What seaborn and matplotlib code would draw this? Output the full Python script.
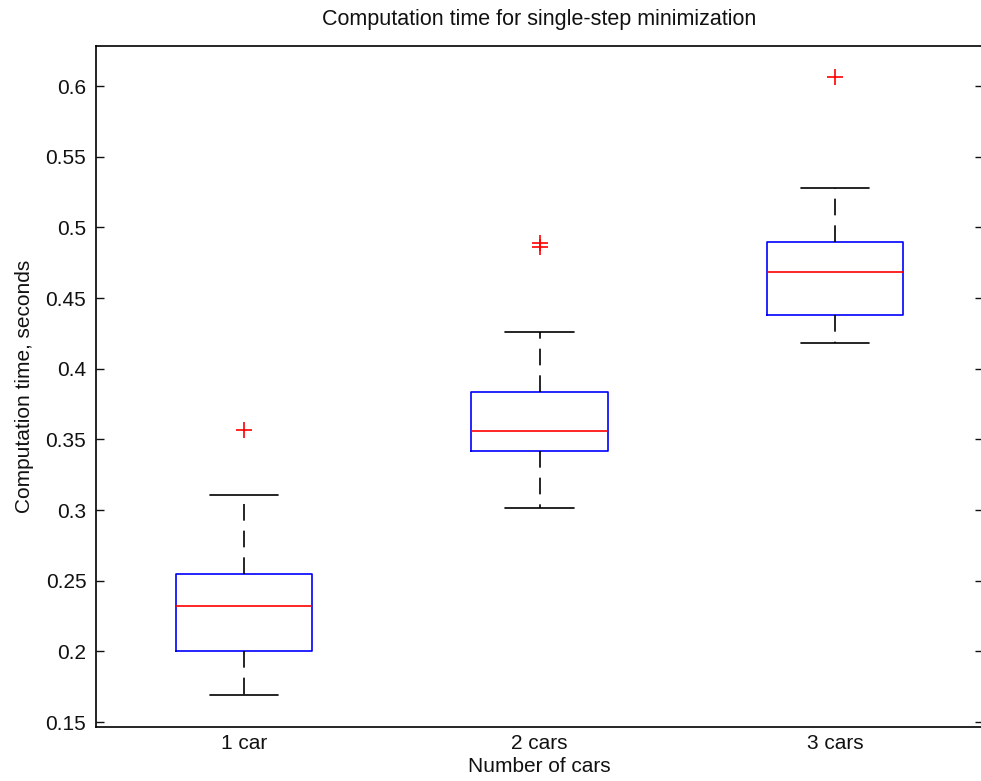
import numpy as np
import pandas as pd
import matplotlib
matplotlib.use("Agg")
import matplotlib.pyplot as plt
import seaborn as sns

categories = ["1 car", "2 cars", "3 cars"]
car1 = [0.1689, 0.185, 0.2000, 0.215, 0.2319, 0.243, 0.2547, 0.3104, 0.3569]
car2 = [0.3012, 0.315, 0.330, 0.3418, 0.346, 0.351, 0.3559, 0.363, 0.373,
        0.3833, 0.4262, 0.4860, 0.4892]
car3 = [0.4182, 0.428, 0.4380, 0.452, 0.4685, 0.479, 0.4897, 0.5279, 0.6065]
ytick_vals = [0.15, 0.2, 0.25, 0.3, 0.35, 0.4, 0.45, 0.5, 0.55, 0.6]
ytick_labels = ["0.15", "0.2", "0.25", "0.3", "0.35", "0.4", "0.45", "0.5", "0.55", "0.6"]

df = pd.DataFrame({
    "cars": [categories[0]] * len(car1) + [categories[1]] * len(car2) + [categories[2]] * len(car3),
    "time": car1 + car2 + car3,
})

sns.set_theme(style="white")
plt.rcParams["font.family"] = ["Liberation Sans", "DejaVu Sans"]
plt.rcParams["text.color"] = "black"
plt.rcParams["axes.labelcolor"] = "black"

fig = plt.figure(figsize=(9.81, 7.81), dpi=100)
ax = fig.add_axes([96 / 981, 1 - 727 / 781, 887 / 981, 681 / 781])

sns.boxplot(
    data=df, x="cars", y="time", order=categories, ax=ax,
    width=0.46, fill=False, whis=1.5, linewidth=1.2,
    boxprops=dict(color="#0000ff"),
    medianprops=dict(color="#ff0000"),
    whiskerprops=dict(color="black", linestyle=(0, (10, 6))),
    capprops=dict(color="black"),
    flierprops=dict(marker="+", markeredgecolor="#ff0000", markerfacecolor="#ff0000",
                    markersize=11, markeredgewidth=1.2),
    fliersize=11,
)

ax.set_xlim(-0.5, 2.5)
ax.set_ylim(0.1465, 0.6283)
ax.set_yticks(ytick_vals)
ax.set_yticklabels(ytick_labels)

for s in ax.spines.values():
    s.set_color("black")
    s.set_linewidth(1.2)

ax.tick_params(axis="y", direction="in", length=6, width=1, left=True, right=True,
               labelsize=15, pad=7, colors="#111111")
ax.tick_params(axis="x", length=0, labelsize=15, pad=5, colors="#111111")

ax.set_xlabel("Number of cars", fontsize=15, color="#111111", labelpad=3)
ax.set_ylabel("Computation time, seconds", fontsize=15, color="#111111", labelpad=8)
ax.set_title("Computation time for single-step minimization", fontsize=15.5,
             color="#111111", pad=15)

fig.savefig("out.png", dpi=100, facecolor="white")
